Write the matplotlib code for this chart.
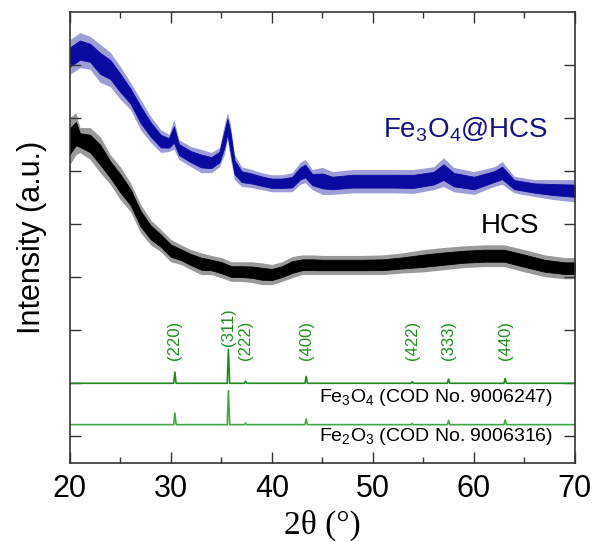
import numpy as np
import matplotlib.pyplot as plt

plt.rcParams['font.family'] = ['Liberation Sans', 'DejaVu Sans']
plt.rcParams['mathtext.fontset'] = 'custom'
plt.rcParams['mathtext.rm'] = 'Liberation Sans'
plt.rcParams['mathtext.it'] = 'Liberation Sans:italic'

# Fe3O4@HCS pattern: 2theta, upper and lower edge of the noisy trace (a.u.)
tt_fe = [20, 21, 22, 23, 24, 25, 26, 27, 28, 29, 29.8, 30.3, 30.8, 32, 33, 34,
         34.8, 35.3, 35.6, 35.9, 36.3, 37, 38, 39, 40, 41, 42, 42.8, 43.3, 44,
         45, 46, 48, 50, 52, 54, 56, 57, 58, 60, 62, 62.8, 64, 66, 68, 70]
fe_hi = [7.98, 8.11, 8.04, 7.89, 7.74, 7.47, 7.17, 6.85, 6.53, 6.28, 6.19, 6.47,
         6.09, 5.96, 5.91, 5.85, 5.94, 6.38, 6.60, 6.38, 5.81, 5.58, 5.53, 5.47,
         5.43, 5.43, 5.47, 5.66, 5.72, 5.53, 5.57, 5.49, 5.53, 5.53, 5.53, 5.53,
         5.58, 5.75, 5.57, 5.49, 5.58, 5.68, 5.40, 5.34, 5.34, 5.34]
fe_lo = [7.32, 7.45, 7.42, 7.17, 7.09, 6.85, 6.66, 6.28, 6.04, 5.85, 5.87, 5.91,
         5.72, 5.58, 5.47, 5.47, 5.58, 5.81, 6.09, 5.72, 5.34, 5.21, 5.19, 5.15,
         5.11, 5.11, 5.11, 5.25, 5.28, 5.15, 5.06, 5.06, 5.09, 5.09, 5.09, 5.08,
         5.15, 5.21, 5.11, 5.06, 5.21, 5.25, 5.09, 5.02, 4.96, 4.92]

# HCS pattern
tt_hcs = [20, 20.6, 21, 22, 23, 24, 25, 26, 27, 28, 29, 30, 31, 32, 33, 34, 35,
          36, 37, 38, 39, 40, 41, 42, 43, 44, 45, 47, 49, 51, 53, 55, 57, 59,
          61, 63, 65, 67, 69, 70]
hcs_hi = [6.51, 6.60, 6.32, 6.32, 6.15, 5.81, 5.58, 5.28, 4.87, 4.58, 4.40, 4.21,
          4.11, 4.02, 3.96, 3.91, 3.87, 3.79, 3.79, 3.79, 3.77, 3.74, 3.79, 3.89,
          3.92, 3.92, 3.91, 3.91, 3.91, 3.92, 3.96, 4.02, 4.06, 4.09, 4.11, 4.11,
          4.02, 3.92, 3.87, 3.87]
hcs_lo = [5.62, 5.81, 5.85, 5.72, 5.47, 5.25, 4.96, 4.74, 4.34, 4.11, 3.98, 3.79,
          3.74, 3.64, 3.55, 3.55, 3.49, 3.42, 3.42, 3.40, 3.36, 3.36, 3.42, 3.49,
          3.55, 3.55, 3.55, 3.55, 3.55, 3.55, 3.58, 3.60, 3.64, 3.68, 3.70, 3.70,
          3.60, 3.51, 3.47, 3.47]

# reference cards (COD)
hkl = ['(220)', '(311)', '(222)', '(400)', '(422)', '(333)', '(440)']
ref_pos = [30.4, 35.7, 37.4, 43.4, 53.9, 57.5, 63.1]
h_fe3o4 = [0.21, 0.64, 0.04, 0.13, 0.03, 0.08, 0.09]
h_fe2o3 = [0.22, 0.64, 0.03, 0.11, 0.02, 0.08, 0.09]
base_fe3o4 = 1.5
base_fe2o3 = 0.72


def sticks(pos, heights, base):
    x, y = [20], [base]
    for p, h in zip(pos, heights):
        x += [p - 0.12, p, p + 0.12]
        y += [base, base + h, base]
    x.append(70)
    y.append(base)
    return x, y


def noisy_band(ax, x, lo, hi, color):
    # outer part of the band (sparse spikes) lighter, dense core solid
    lo, hi = np.array(lo), np.array(hi)
    mid, half = (lo + hi) / 2, (hi - lo) / 2
    ax.fill_between(x, lo, hi, color=color, alpha=0.4, lw=0)
    ax.fill_between(x, mid - 0.55 * half, mid + 0.55 * half, color=color, lw=0.6,
                    edgecolor=color)


fig = plt.figure(figsize=(5.92, 5.42), dpi=100)
ax = fig.add_axes([0.118, 0.146, 0.853, 0.832])

blue = '#0a0aa0'
noisy_band(ax, tt_fe, fe_lo, fe_hi, blue)
noisy_band(ax, tt_hcs, hcs_lo, hcs_hi, 'black')

x3, y3 = sticks(ref_pos, h_fe3o4, base_fe3o4)
ax.plot(x3, y3, color='#1f8a1f', lw=1.2)
x2, y2 = sticks(ref_pos, h_fe2o3, base_fe2o3)
ax.plot(x2, y2, color='#45a845', lw=1.2)

for lab, p, h in zip(hkl, ref_pos, h_fe3o4):
    yb = 2.2 if lab == '(311)' else 1.93
    ax.text(p, yb, lab, rotation=90, ha='center', va='bottom', fontsize=12, color='#1f8f1f')

ax.text(67.3, 6.28, r'Fe$_3$O$_4$@HCS', color='#141488', fontsize=20, ha='right', va='center')
ax.text(66.5, 4.47, 'HCS', color='black', fontsize=20, ha='right', va='center')
ax.text(67.8, 1.23, r'Fe$_3$O$_4$ (COD No. 9006247)', fontsize=14, ha='right', va='center')
ax.text(67.8, 0.49, r'Fe$_2$O$_3$ (COD No. 9006316)', fontsize=14, ha='right', va='center')

ax.set_xlim(20, 70)
ax.set_ylim(0, 8.5)
ax.set_xticks(np.arange(20, 71, 10))
ax.set_xticks(np.arange(25, 70, 10), minor=True)
ax.set_yticks(np.arange(0.5, 8, 1))
ax.set_yticklabels([])
ax.tick_params(which='both', direction='in', top=True, right=True, width=1, color='#333333')
ax.tick_params(which='major', length=8)
ax.tick_params(which='minor', length=4)
ax.tick_params(axis='x', labelsize=22, pad=8)
for s in ax.spines.values():
    s.set_color('#333333')
    s.set_linewidth(1.2)

ax.set_xlabel('2θ (°)', fontsize=24, family=['Liberation Serif', 'DejaVu Serif'], labelpad=4)
ax.set_ylabel('Intensity (a.u.)', fontsize=22, labelpad=13)

fig.savefig('out.png', dpi=100)
